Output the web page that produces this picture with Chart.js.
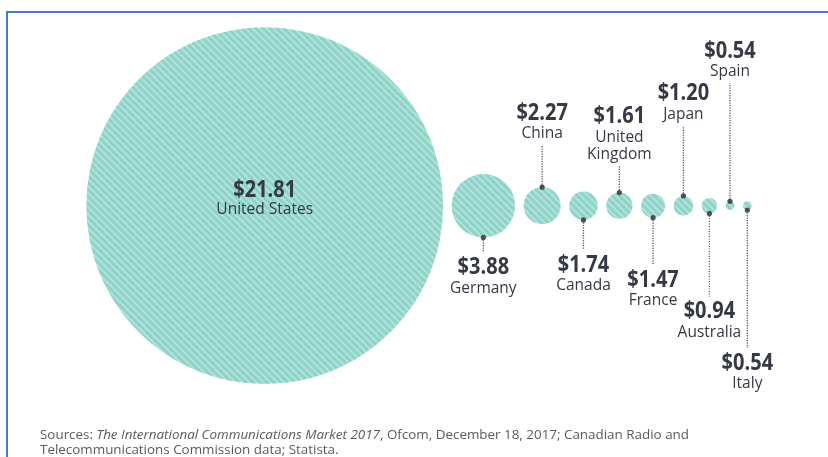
<!DOCTYPE html>
<html><head><meta charset="utf-8">
<script src="https://cdn.jsdelivr.net/npm/chart.js@4.4.0/dist/chart.umd.min.js"></script>
<style>
html,body{margin:0;padding:0;background:#fff;overflow:hidden}
#wrap{position:relative;width:828px;height:457px}
#frame{position:absolute;left:6px;top:11px;width:900px;height:520px;border-left:2px solid #4a78c9;border-top:2px solid #4a78c9;box-sizing:border-box;pointer-events:none}
#c{position:absolute;left:0;top:0}
</style></head><body>
<div id="wrap"><div id="frame"></div><canvas id="c" width="828" height="457"></canvas></div>
<script>
// ---- data ----
const categories = ['United States','Germany','China','Canada','United Kingdom','France','Japan','Australia','Spain','Italy'];
const values = [21.81, 3.88, 2.27, 1.74, 1.61, 1.47, 1.20, 0.94, 0.54, 0.54];
const nameLines = [['United States'],['Germany'],['China'],['Canada'],['United','Kingdom'],['France'],['Japan'],['Australia'],['Spain'],['Italy']];
const valueLabels = values.map(v => '$' + v.toFixed(2));

// ---- layout config ----
const W = 828, H = 457;
const PX_PER_DOLLAR = 8.18;   // bubble radius per dollar
const START_PX = 264.7;       // center of first bubble
const CENTER_Y_PX = 205.7;
const GAP_PX = 8.5;
const labelSide = ['center','below','above','below','above','below','above','below','above','below'];
const leaderLen = [0, 15, 42, 30, 26.5, 47, 70, 83, 118, 138];

// packed row positions in dollar units (derived from values)
const xPos = [];
values.forEach((v, i) => {
  if (i === 0) xPos.push(START_PX / PX_PER_DOLLAR);
  else xPos.push(xPos[i-1] + values[i-1] + GAP_PX / PX_PER_DOLLAR + v);
});

// hatch pattern
function makePattern(){
  const s = 7;
  const c = document.createElement('canvas'); c.width = s; c.height = s;
  const g = c.getContext('2d');
  g.fillStyle = '#8fd3c9'; g.fillRect(0,0,s,s);
  g.strokeStyle = '#b6e4dd'; g.lineWidth = 1.6;
  g.beginPath();
  g.moveTo(-1,-1); g.lineTo(s+1,s+1);
  g.moveTo(-1,s-1); g.lineTo(1,s+1);
  g.moveTo(s-1,-1); g.lineTo(s+1,1);
  g.stroke();
  return g.createPattern(c,'repeat');
}

const TEXT = '#363945';
function drawValue(ctx, text, x, base){
  ctx.save();
  ctx.font = '700 23px "Open Sans"';
  ctx.fillStyle = TEXT; ctx.textAlign = 'center'; ctx.textBaseline = 'alphabetic';
  ctx.translate(x, base); ctx.scale(0.87, 1);
  ctx.fillText(text, 0, 0);
  ctx.restore();
}
function drawName(ctx, text, x, base){
  ctx.save();
  ctx.font = '400 15.5px "Open Sans"';
  ctx.fillStyle = TEXT; ctx.textAlign = 'center'; ctx.textBaseline = 'alphabetic';
  ctx.fillText(text, x, base);
  ctx.restore();
}
function drawLeader(ctx, x, y0, y1){
  ctx.save();
  ctx.strokeStyle = '#56585f'; ctx.lineWidth = 1.3; ctx.setLineDash([1.2,1.3]);
  ctx.beginPath(); ctx.moveTo(x, y0); ctx.lineTo(x, y1); ctx.stroke();
  ctx.setLineDash([]);
  ctx.fillStyle = '#4d4f57';
  ctx.beginPath(); ctx.arc(x, y0, 2.6, 0, Math.PI*2); ctx.fill();
  ctx.restore();
}

const labelPlugin = {
  id: 'bubbleLabels',
  afterDatasetsDraw(chart){
    const ctx = chart.ctx;
    const meta = chart.getDatasetMeta(0);
    const xs = chart.scales.x;
    const pxPer = Math.abs(xs.getPixelForValue(1) - xs.getPixelForValue(0));
    meta.data.forEach((el, i) => {
      const x = el.x, y = el.y, r = values[i] * pxPer;
      const lines = nameLines[i];
      if (labelSide[i] === 'center'){
        drawValue(ctx, valueLabels[i], x, y - 8.4);
        drawName(ctx, lines[0], x, y + 8.6);
      } else if (labelSide[i] === 'above'){
        const edge = y - r, end = edge - leaderLen[i];
        drawLeader(ctx, x, edge, end);
        const lastBase = end - 7;
        const firstBase = lastBase - 17.5*(lines.length-1);
        lines.forEach((t, k) => drawName(ctx, t, x, firstBase + 17.5*k));
        drawValue(ctx, valueLabels[i], x, firstBase - 18.5);
      } else {
        const edge = y + r, end = edge + leaderLen[i];
        drawLeader(ctx, x, edge, end);
        const vb = end + 22;
        drawValue(ctx, valueLabels[i], x, vb);
        lines.forEach((t, k) => drawName(ctx, t, x, vb + 18.3 + 17.5*k));
      }
    });
    // sources
    ctx.save();
    ctx.fillStyle = '#5a5a5a'; ctx.textBaseline = 'alphabetic'; ctx.textAlign = 'left';
    const reg = '400 13px "Open Sans"', ita = 'italic 400 13px "Open Sans"';
    const segs1 = [['Sources: ', reg], ['The International Communications Market 2017', ita], [', Ofcom, December 18, 2017; Canadian Radio and', reg]];
    const segs2 = [['Telecommunications Commission data; Statista.', reg]];
    let w1 = 0; segs1.forEach(s => { ctx.font = s[1]; w1 += ctx.measureText(s[0]).width; });
    const sx = 649 / w1;
    function line(segs, base){
      ctx.save(); ctx.translate(40, base); ctx.scale(sx, 1);
      let cx = 0;
      segs.forEach(s => { ctx.font = s[1]; ctx.fillText(s[0], cx, 0); cx += ctx.measureText(s[0]).width; });
      ctx.restore();
    }
    line(segs1, 438.5); line(segs2, 453.5);
    ctx.restore();
  }
};

new Chart(document.getElementById('c'), {
  type: 'bubble',
  data: {
    labels: categories,
    datasets: [{
      data: values.map((v, i) => ({x: xPos[i], y: 0, r: v * PX_PER_DOLLAR})),
      backgroundColor: makePattern(),
      hoverBackgroundColor: makePattern(),
      borderWidth: 0,
      hoverBorderWidth: 0,
      clip: false
    }]
  },
  options: {
    responsive: false,
    animation: false,
    events: [],
    layout: {padding: 0, autoPadding: false},
    plugins: {legend: {display: false}, tooltip: {enabled: false}},
    scales: {
      x: {type: 'linear', display: false, min: 0, max: W / PX_PER_DOLLAR},
      y: {type: 'linear', display: false, min: CENTER_Y_PX - H, max: CENTER_Y_PX}
    }
  },
  plugins: [labelPlugin]
});
</script>
</body></html>
